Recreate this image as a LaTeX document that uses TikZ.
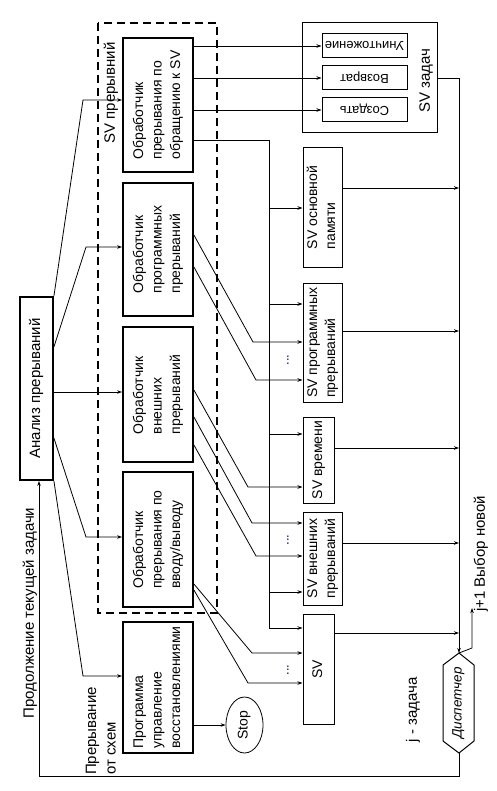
\documentclass[tikz,border=0pt]{standalone}
\usepackage{fontspec}
\setmainfont{Liberation Sans}
\usepackage{graphicx}
\usetikzlibrary{arrows.meta,calc,shapes.geometric}
\newcommand{\rtxt}[1]{\rotatebox{90}{\begin{tabular}{@{}l@{}}#1\end{tabular}}}
\begin{document}
\begin{tikzpicture}[x=1pt,y=-1pt,
  hbox/.style={draw,line width=1.8pt,inner sep=0pt,font=\fontsize{14}{18.5}\selectfont},
  svbox/.style={draw,line width=1pt,inner sep=0pt,font=\fontsize{14}{18}\selectfont},
  subbox/.style={draw,line width=1pt,inner sep=0pt,minimum width=85pt,minimum height=24pt,font=\fontsize{13}{15}\selectfont},
  lbl/.style={inner sep=0pt,font=\fontsize{15}{19.5}\selectfont},
  conn/.style={line width=0.8pt},
  arr/.style={conn,-{Stealth[length=5pt,width=3.5pt]}},
  dots/.style={inner sep=0pt,font=\fontsize{13}{15}\selectfont,text=black!70!blue}
]
\useasboundingbox (0,0) rectangle (497,791);

% analysis box
\node[hbox,minimum width=33pt,minimum height=183pt,font=\fontsize{15}{18}\selectfont] (an) at (36.5,388.5) {\rtxt{Анализ прерываний}};

% interrupt handlers
\draw[line width=2.2pt,dash pattern=on 8pt off 5pt] (98,23) rectangle (217,613);
\node[lbl] (svint) at (111,93) {\rtxt{SV прерывний}};
\node[hbox,minimum width=70pt,minimum height=134pt] (b1) at (158,105) {\rtxt{Обработчик\\прерывания по\\обращению к SV}};
\node[hbox,minimum width=70pt,minimum height=133pt] (b2) at (158,249.5) {\rtxt{Обработчик\\программных\\прерываний}};
\node[hbox,minimum width=70pt,minimum height=135pt] (b3) at (158,394.5) {\rtxt{Обработчик\\внешних\\прерываний}};
\node[hbox,minimum width=70pt,minimum height=135pt] (b4) at (158,539.5) {\rtxt{Обработчик\\прерывания по\\вводу/выводу}};
\node[hbox,minimum width=70pt,minimum height=131pt] (bp) at (158,687.5) {\rtxt{Программа\\управление\\восстановлениями}};
\node[draw,line width=0.8pt,ellipse,minimum width=37pt,minimum height=56pt,inner sep=0pt,font=\fontsize{14}{16}\selectfont] (stop) at (244.5,725) {\rtxt{Stop}};

% SV boxes
\node[svbox,minimum width=39pt,minimum height=119pt] (s1) at (322.5,207.5) {\rtxt{SV основной\\памяти}};
\node[svbox,minimum width=39pt,minimum height=119pt] (s2) at (322.5,342.5) {\rtxt{SV программных\\прерываний}};
\node[svbox,minimum width=31pt,minimum height=86pt] (s3) at (318.5,460) {\rtxt{SV времени}};
\node[svbox,minimum width=39pt,minimum height=93pt] (s4) at (322.5,558.5) {\rtxt{SV внешних\\прерываний}};
\node[svbox,minimum width=31pt,minimum height=110pt] (s5) at (318.5,669) {\rtxt{SV}};

% SV tasks
\node[svbox,minimum width=135pt,minimum height=110pt] (tz) at (369.5,78) {};
\node[lbl] (svt) at (426,81) {\rtxt{SV задач}};
\node[subbox] (u1) at (364.5,46) {\rotatebox{180}{Уничтожение}};
\node[subbox] (u2) at (364.5,78) {\rotatebox{180}{Возврат}};
\node[subbox] (u3) at (364.5,110) {\rotatebox{180}{Создать}};

% dispatcher
\node[inner sep=0pt,minimum width=31pt,minimum height=100pt,font=\itshape\fontsize{13.5}{16}\selectfont] (disp) at (458.5,703) {\rtxt{Диспетчер}};
\coordinate (dtop) at (459,653);
\coordinate (dbot) at (459,753);
\draw[line width=1pt] (dtop) -- (474,665) -- (474,741) -- (dbot) -- (443,741) -- (443,665) -- cycle;

% labels
\node[lbl] (cont) at (30,613) {\rtxt{Продолжение текущей задачи}};
\node[lbl,anchor=south] (fromsch) at (102,775) {\rtxt{Прерывание\\от схем}};
\node[lbl] (jt) at (413,710) {\rtxt{j - задача}};
\node[lbl,anchor=south] (jn) at (481,612) {\rtxt{j+1 Выбор новой}};
\node[dots] (d1) at (288,360) {\rotatebox{90}{...}};
\node[dots] (d2) at (288,540) {\rotatebox{90}{...}};
\node[dots] (d3) at (288,670) {\rotatebox{90}{...}};

% analysis fan
\draw[arr] (an.north east) -- (83,100) -- (b1.west |- 0,100);
\draw[arr] (an.east |- 0,347) -- (86,247) -- (b2.west |- 0,247);
\draw[arr] (an.east |- 0,392) -- (b3.west |- 0,392);
\draw[arr] (an.east |- 0,438) -- (86,537) -- (b4.west |- 0,537);
\draw[arr] (an.south east) -- (83,676) -- (bp.west |- 0,676);

% SV handler outputs
\draw[arr] (b1.east |- u1.west) -- (u1.west);
\draw[arr] (b1.east |- u2.west) -- (u2.west);
\draw[arr] (b1.east |- u3.west) -- (u3.west);
\coordinate (bust) at (269,140);
\coordinate (busb) at (269,628);
\draw[arr] (b1.east |- bust) -- (bust) -- (busb) -- (s5.west |- busb);
\draw[arr] (bust |- 0,208) -- (s1.west |- 0,208);
\draw[arr] (bust |- 0,304) -- (s2.west |- 0,304);
\draw[arr] (bust |- 0,434) -- (s3.west |- 0,434);
\draw[arr] (bust |- 0,592) -- (s4.west |- 0,592);

% slanted handler lines
\draw[arr] (b2.east |- 0,235) -- (253,342) -- (s2.west |- 0,342);
\draw[arr] (b2.east |- 0,267) -- (256,380) -- (s2.west |- 0,380);
\draw[arr] (b3.east |- 0,390) -- (248,487) -- (s3.west |- 0,487);
\draw[arr] (b3.east |- 0,417) -- (252,523) -- (s4.west |- 0,523);
\draw[arr] (b3.east |- 0,445) -- (256,556) -- (s4.west |- 0,556);
\draw[arr] (b4.east |- 0,584) -- (252,653) -- (s5.west |- 0,653);
\draw[arr] (b4.east |- 0,590) -- (248,683) -- (s5.west |- 0,683);

% program -> stop
\draw[arr] (bp.east |- stop) -- (stop.west);

% right bus
\coordinate (rbt) at (459,78);
\draw[arr] (tz.east |- rbt) -- (rbt) -- (dtop);
\draw[arr] (s1.east |- 0,188) -- (rbt |- 0,188);
\draw[arr] (s2.east |- 0,331) -- (rbt |- 0,331);
\draw[arr] (s3.east |- 0,448) -- (rbt |- 0,448);
\draw[arr] (s4.east |- 0,543) -- (rbt |- 0,543);
\draw[arr] (s5.east |- 0,633) -- (rbt |- 0,633);

% dispatcher outputs
\draw[arr] (dtop) -- (472,648) -- (472,608);
\draw[arr] (dbot) -- (459,776) -- (39,776) -- (an.south -| 39,0);
\end{tikzpicture}
\end{document}
